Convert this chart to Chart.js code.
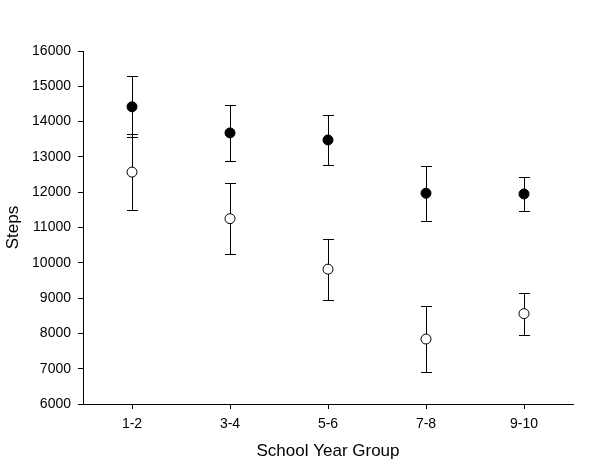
<!DOCTYPE html>
<html>
<head>
<meta charset="utf-8">
<script src="https://cdn.jsdelivr.net/npm/chart.js@4/dist/chart.umd.min.js"></script>
<style>
  html, body { margin: 0; padding: 0; background: #fff; }
  #wrap { width: 600px; height: 464px; }
</style>
</head>
<body>
<div id="wrap"><canvas id="grafico"></canvas></div>
<script>
const grupos = ["1-2", "3-4", "5-6", "7-8", "9-10"];
const yTicks = [6000, 7000, 8000, 9000, 10000, 11000, 12000, 13000, 14000, 15000, 16000];

// filled circles
const mediaCheio = [14420, 13680, 13480, 11970, 11950];
const superiorCheio = [15280, 14480, 14190, 12740, 12440];
const inferiorCheio = [13560, 12870, 12760, 11190, 11460];

// open circles
const mediaVazio = [12570, 11250, 9820, 7840, 8560];
const superiorVazio = [13640, 12250, 10670, 8770, 9150];
const inferiorVazio = [11490, 10240, 8950, 6900, 7960];

const fonte = "Arial, 'Liberation Sans', sans-serif";

// whiskers drawn under the markers
const barrasErro = {
    id: "barrasErro",
    beforeDatasetsDraw(chart) {
        const ctx = chart.ctx;
        const x = chart.scales.x;
        const y = chart.scales.y;
        const series = [
            [superiorCheio, inferiorCheio],
            [superiorVazio, inferiorVazio]
        ];
        ctx.save();
        ctx.strokeStyle = "#000";
        ctx.lineWidth = 1;
        series.forEach(([sup, inf]) => {
            grupos.forEach((g, i) => {
                const px = Math.round(x.getPixelForValue(i)) + 0.5;
                const yHi = Math.round(y.getPixelForValue(sup[i])) + 0.5;
                const yLo = Math.round(y.getPixelForValue(inf[i])) + 0.5;
                ctx.beginPath();
                ctx.moveTo(px, yHi);
                ctx.lineTo(px, yLo);
                ctx.moveTo(px - 5.5, yHi);
                ctx.lineTo(px + 5.5, yHi);
                ctx.moveTo(px - 5.5, yLo);
                ctx.lineTo(px + 5.5, yLo);
                ctx.stroke();
            });
        });
        ctx.restore();
    }
};

new Chart(document.getElementById("grafico"), {
    type: "line",
    data: {
        labels: grupos,
        datasets: [{
            data: mediaCheio,
            showLine: false,
            pointRadius: 5,
            pointBorderWidth: 1,
            pointBackgroundColor: "#000",
            pointBorderColor: "#000"
        }, {
            data: mediaVazio,
            showLine: false,
            pointRadius: 5,
            pointBorderWidth: 1,
            pointBackgroundColor: "#fff",
            pointBorderColor: "#000"
        }]
    },
    options: {
        responsive: true,
        maintainAspectRatio: false,
        animation: false,
        layout: { padding: { top: 51, right: 27, left: 0, bottom: 0 } },
        plugins: {
            legend: { display: false },
            tooltip: { enabled: false }
        },
        scales: {
            x: {
                offset: true,
                grid: {
                    offset: false,
                    drawOnChartArea: false,
                    drawTicks: true,
                    tickLength: 5,
                    color: "#000"
                },
                border: { display: true, color: "#000", width: 1 },
                ticks: {
                    color: "#000",
                    padding: 7,
                    maxRotation: 0,
                    font: { family: fonte, size: 14 }
                },
                title: {
                    display: true,
                    text: "School Year Group",
                    color: "#000",
                    padding: { top: 0, bottom: 2 },
                    font: { family: fonte, size: 17 }
                },
                afterFit: s => { s.height = 60; }
            },
            y: {
                min: 6000,
                max: 16000,
                afterBuildTicks: s => { s.ticks = yTicks.map(v => ({ value: v })); },
                grid: {
                    drawOnChartArea: false,
                    drawTicks: true,
                    tickLength: 5,
                    color: "#000"
                },
                border: { display: true, color: "#000", width: 1 },
                ticks: {
                    color: "#000",
                    padding: 7,
                    callback: v => String(v),
                    font: { family: fonte, size: 14 }
                },
                title: {
                    display: true,
                    text: "Steps",
                    color: "#000",
                    padding: { top: 3, bottom: 0 },
                    font: { family: fonte, size: 17 }
                },
                afterFit: s => { s.width = 83; }
            }
        }
    },
    plugins: [barrasErro]
});
</script>
</body>
</html>
